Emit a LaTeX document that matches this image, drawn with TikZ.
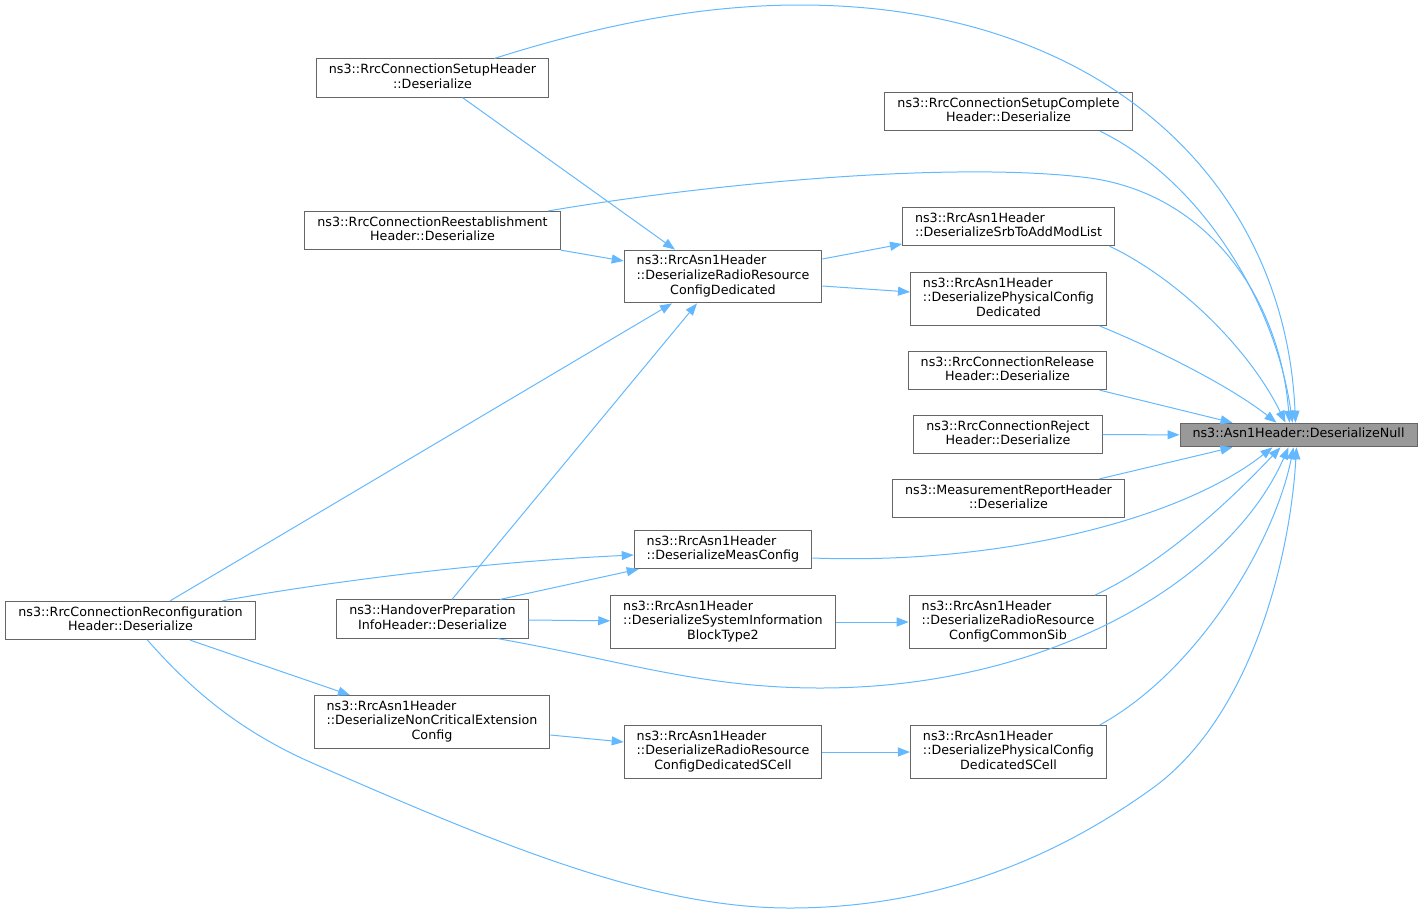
\documentclass[tikz,border=0pt]{standalone}
\usepackage{fontspec}
\setmainfont{DejaVu Sans}
\usetikzlibrary{arrows.meta}

\definecolor{edgeblue}{HTML}{63B8FF}
\definecolor{boxgray}{HTML}{666666}
\definecolor{nullfill}{HTML}{999999}

\newcommand{\onel}[1]{\begin{tabular}{@{}c@{}}#1\end{tabular}}
\newcommand{\twol}[2]{\begin{tabular}{@{}l@{}}#1\\\multicolumn{1}{@{}c@{}}{#2}\end{tabular}}
\newcommand{\twoll}[2]{\begin{tabular}{@{}l@{}}#1\\#2\end{tabular}}
\newcommand{\threel}[3]{\begin{tabular}{@{}l@{}}#1\\#2\\\multicolumn{1}{@{}c@{}}{#3}\end{tabular}}

\begin{document}
\begin{tikzpicture}[x=1pt,y=-1pt,->,>={Triangle[length=12pt,width=9pt]},
  draw=edgeblue,line width=1pt,
  fn/.style={draw=boxgray,fill=white,text=black,inner xsep=12.5pt,inner ysep=4.5pt,
    font=\fontsize{12.7}{14.6}\selectfont},
  current/.style={fn,fill=nullfill}]
  \useasboundingbox (0,0) rectangle (1424,914);

  \node[current] (DESNULL)      at (1298.5,435) {\onel{ns3::Asn1Header::DeserializeNull}};

  \node[fn] (SETUP)         at (432.5,78)   {\twol{ns3::RrcConnectionSetupHeader}{::Deserialize}};
  \node[fn] (SETUPCOMPLETE) at (1008.5,111.5) {\twol{ns3::RrcConnectionSetupComplete}{Header::Deserialize}};
  \node[fn] (REESTAB)       at (432.5,230.5) {\twol{ns3::RrcConnectionReestablishment}{Header::Deserialize}};
  \node[fn] (SRBLIST)       at (1008.5,226.5) {\twoll{ns3::RrcAsn1Header}{::DeserializeSrbToAddModList}};
  \node[fn] (RRCDED)        at (723,276.5)  {\threel{ns3::RrcAsn1Header}{::DeserializeRadioResource}{ConfigDedicated}};
  \node[fn] (PHYSDED)       at (1008.5,299) {\threel{ns3::RrcAsn1Header}{::DeserializePhysicalConfig}{Dedicated}};
  \node[fn] (RELEASE)       at (1007.5,370.5) {\twol{ns3::RrcConnectionRelease}{Header::Deserialize}};
  \node[fn] (REJECT)        at (1008,434.5) {\twol{ns3::RrcConnectionReject}{Header::Deserialize}};
  \node[fn] (MEASREPORT)    at (1008.5,498.5) {\twol{ns3::MeasurementReportHeader}{::Deserialize}};
  \node[fn] (MEASCONFIG)    at (723,549.5)  {\twoll{ns3::RrcAsn1Header}{::DeserializeMeasConfig}};
  \node[fn] (RECONF)        at (130.5,620.5) {\twol{ns3::RrcConnectionReconfiguration}{Header::Deserialize}};
  \node[fn] (HANDOVER)      at (432.5,619)  {\twol{ns3::HandoverPreparation}{InfoHeader::Deserialize}};
  \node[fn] (SIB2)          at (723,622)    {\threel{ns3::RrcAsn1Header}{::DeserializeSystemInformation}{BlockType2}};
  \node[fn] (COMMONSIB)     at (1008,622)   {\threel{ns3::RrcAsn1Header}{::DeserializeRadioResource}{ConfigCommonSib}};
  \node[fn] (NONCRIT)       at (432,722)    {\threel{ns3::RrcAsn1Header}{::DeserializeNonCriticalExtension}{Config}};
  \node[fn] (RRCSCELL)      at (723,752)    {\threel{ns3::RrcAsn1Header}{::DeserializeRadioResource}{ConfigDedicatedSCell}};
  \node[fn] (PHYSSCELL)     at (1008.5,752) {\threel{ns3::RrcAsn1Header}{::DeserializePhysicalConfig}{DedicatedSCell}};

  % calls into DeserializeNull
  \draw ([xshift=62pt]SETUP.north) .. controls (600,25) and (700,5) .. (800,5)
    .. controls (1100,5) and (1285,180) .. ([xshift=-3pt]DESNULL.north);
  \draw ([xshift=91.5pt]SETUPCOMPLETE.south) .. controls (1200,180) and (1275,300) .. ([xshift=-6pt]DESNULL.north);
  \draw ([xshift=116pt]REESTAB.north) .. controls (700,185) and (950,160) .. (1090,178)
    .. controls (1210,195) and (1280,300) .. ([xshift=-9pt]DESNULL.north);
  \draw ([xshift=101pt]SRBLIST.south) .. controls (1180,280) and (1250,350) .. ([xshift=-13pt]DESNULL.north);
  \draw ([xshift=91pt]PHYSDED.south) .. controls (1170,355) and (1235,390) .. ([xshift=-22pt]DESNULL.north);
  \draw ([yshift=-8.5pt]MEASCONFIG.east) .. controls (1000,565) and (1180,520) .. ([xshift=-26pt]DESNULL.south);
  \draw ([xshift=87pt]COMMONSIB.north) .. controls (1170,560) and (1240,490) .. ([xshift=-18pt]DESNULL.south);
  \draw ([xshift=65pt]HANDOVER.south) .. controls (620,660) and (700,688) .. (820,688)
    .. controls (1050,688) and (1230,580) .. ([xshift=-10pt]DESNULL.south);
  \draw ([xshift=91pt]PHYSSCELL.north) .. controls (1200,670) and (1275,540) .. ([xshift=-5pt]DESNULL.south);
  \draw ([xshift=17pt]RECONF.south) .. controls (200,700) and (250,735) .. (310,762)
    .. controls (500,845) and (650,908) .. (790,908)
    .. controls (960,908) and (1080,840) .. (1150,790)
    .. controls (1250,720) and (1290,560) .. ([xshift=-2pt]DESNULL.south);
  \draw ([xshift=91.5pt]RECONF.north) .. controls (320,583) and (480,562) .. ([yshift=-5.5pt]MEASCONFIG.west);

  \path
    ([xshift=92pt]RELEASE.south)    edge ([xshift=-66pt]DESNULL.north)
    (REJECT)                        edge (DESNULL)
    ([xshift=91pt]MEASREPORT.north) edge ([xshift=-66pt]DESNULL.south)
    ([xshift=30pt]SETUP.south)      edge ([xshift=-48pt]RRCDED.north)
    (REESTAB.south east)            edge ([yshift=15.5pt]RRCDED.west)
    ([yshift=17.5pt]RRCDED.east)    edge ([yshift=-17.5pt]SRBLIST.west)
    ([yshift=-9.5pt]RRCDED.east)    edge ([yshift=7pt]PHYSDED.west)
    ([xshift=39.5pt]RECONF.north)   edge ([xshift=-51pt]RRCDED.south)
    ([xshift=19.5pt]HANDOVER.north) edge ([xshift=-26pt]RRCDED.south)
    ([xshift=67.5pt]HANDOVER.north) edge ([xshift=5pt]MEASCONFIG.south west)
    (HANDOVER)                      edge (SIB2)
    (SIB2)                          edge (COMMONSIB)
    ([xshift=59.5pt]RECONF.south)   edge ([xshift=-82pt]NONCRIT.north)
    ([yshift=-13pt]NONCRIT.east)    edge ([yshift=10pt]RRCSCELL.west)
    (RRCSCELL)                      edge (PHYSSCELL);
\end{tikzpicture}
\end{document}
